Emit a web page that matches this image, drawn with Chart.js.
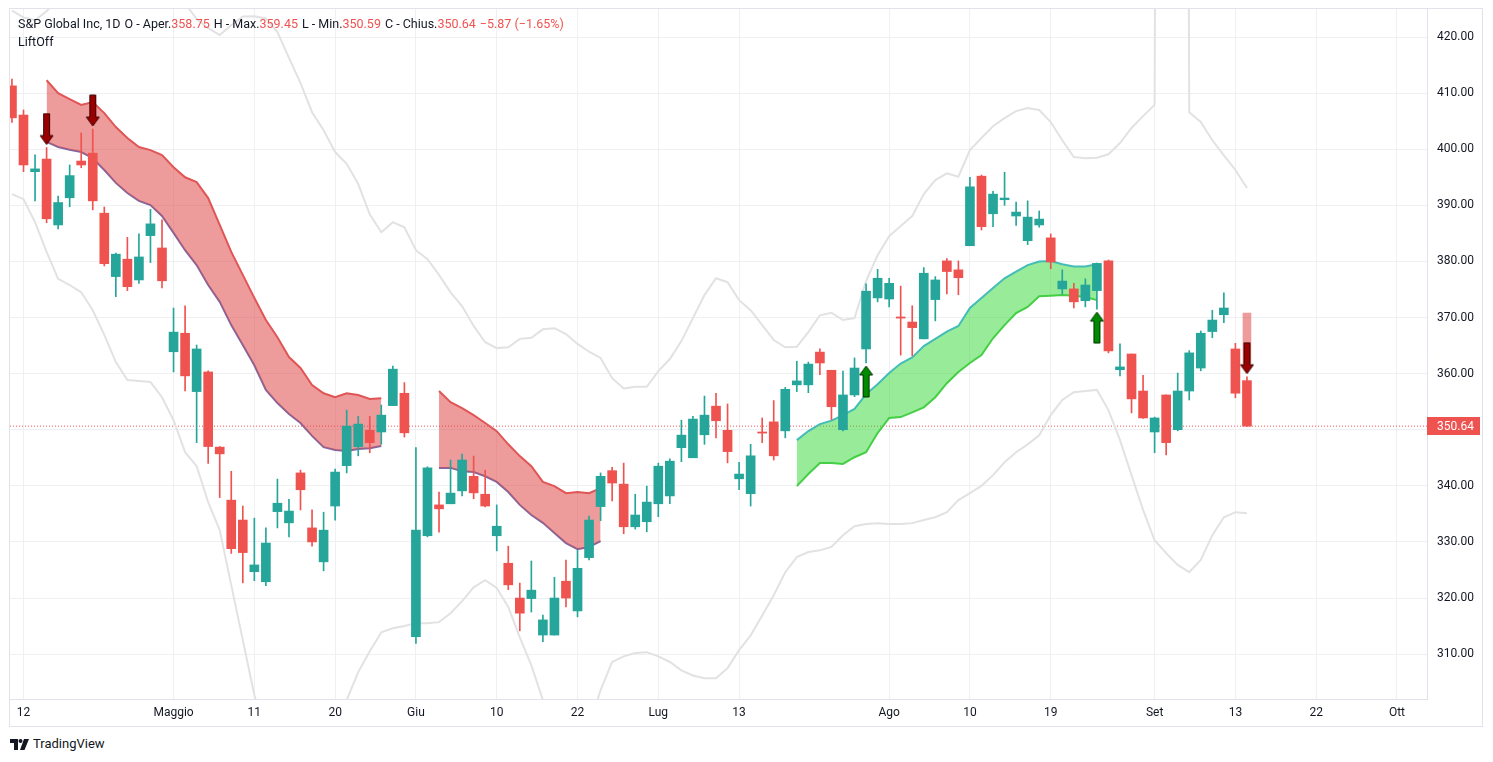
<!DOCTYPE html>
<html>
<head>
<meta charset="utf-8">
<script src="https://cdn.jsdelivr.net/npm/chart.js"></script>
<style>
  body { margin: 0; background: #fff; width: 1493px; height: 762px; overflow: hidden;
         font-family: Roboto, "Liberation Sans", sans-serif; color: #131722; }
  #frame { position: absolute; left: 9px; top: 8px; width: 1472px; height: 717px; border: 1px solid #e0e3eb; }
  #frame canvas { position: absolute; left: 0; top: 0; }
  #legend { position: absolute; left: 18px; top: 15px; font-size: 12.5px; line-height: 18px; pointer-events: none; }
  #legend .sep { margin-left: 4px; }
  #legend .v { color: #ef5350; }
  #brand { position: absolute; left: 10px; top: 736px; font-size: 13px; line-height: 16px; }
  #brand svg { vertical-align: -2px; margin-right: 3px; }
</style>
</head>
<body>
<div id="frame"><canvas id="chart" width="1472" height="717"></canvas></div>
<div id="legend"><div id="ohlc"></div><div>LiftOff</div></div>
<div id="brand"><svg width="20" height="11" viewBox="0 0 20 11"><path d="M0 0h8v11H4V4H0z" fill="#131722"/><circle cx="10.5" cy="2" r="2" fill="#131722"/><path d="M14 0h5l-4.5 11H10z" fill="#131722"/></svg>TradingView</div>
<script>
// Daily candles, index 0 = 11 Apr 2022 (trading days only)
const open = [
  411.3, 406.1, 396.0, 398.25, 386.5, 391.35, 397.9, 399.3, 388.6, 377.3,
  380.4, 376.7, 384.6, 382.4, 363.9, 367.2, 356.8, 360.3, 346.9, 337.45,
  333.9, 324.7, 322.9, 335.4, 333.4, 342.3, 332.5, 326.45, 336.4, 343.6,
  346.96, 349.9, 349.6, 354.3, 356.5, 313.1, 331.1, 336.6, 336.8, 339.1,
  341.7, 338.5, 331.1, 326.2, 320.0, 319.9, 313.4, 313.4, 323.0, 317.7,
  327.2, 336.3, 342.7, 340.3, 332.7, 333.6, 336.8, 338.2, 346.8, 345.0,
  349.1, 354.2, 349.9, 341.25, 338.6, 349.6, 351.4, 349.8, 358.0, 358.0,
  363.84, 360.6, 350.0, 356.2, 364.4, 373.5, 373.3, 370.1, 369.2, 366.2,
  373.2, 380.1, 378.5, 382.8, 395.2, 388.5, 391.0, 388.1, 383.7, 386.5,
  384.2, 375.1, 375.1, 373.0, 374.8, 380.1, 360.7, 363.5, 356.9, 349.6,
  356.2, 350.0, 356.9, 361.0, 367.5, 370.5, 364.4, 358.75
];
const high = [
  412.5, 407.0, 399.0, 400.3, 391.65, 397.2, 402.9, 403.6, 389.7, 381.5,
  384.3, 384.9, 389.3, 387.4, 371.7, 372.1, 365.1, 360.5, 347.0, 342.6,
  336.4, 334.25, 332.5, 341.2, 337.6, 342.8, 335.7, 335.3, 343.0, 353.5,
  352.4, 352.4, 354.4, 361.35, 358.4, 346.8, 343.4, 338.9, 344.6, 345.65,
  345.3, 342.8, 336.6, 329.25, 322.66, 326.6, 316.95, 323.7, 326.76, 328.5,
  334.6, 342.3, 343.3, 344.05, 338.5, 339.95, 344.05, 344.8, 351.7, 352.4,
  356.0, 356.5, 354.6, 344.2, 347.4, 352.1, 355.2, 357.55, 362.2, 362.06,
  364.4, 360.6, 360.45, 362.8, 376.0, 378.6, 377.0, 375.6, 372.1, 378.9,
  377.3, 380.5, 380.1, 395.0, 395.4, 392.5, 395.9, 390.6, 390.8, 389.0,
  384.9, 378.5, 376.1, 376.9, 379.7, 380.25, 365.3, 363.5, 359.7, 352.25,
  356.2, 360.1, 364.1, 367.6, 371.3, 374.4, 365.4, 359.45
];
const low = [
  404.8, 396.0, 390.8, 386.9, 385.8, 389.75, 396.7, 389.2, 379.2, 373.7,
  374.8, 376.1, 379.8, 375.3, 360.3, 356.9, 347.7, 344.0, 337.9, 327.95,
  322.7, 323.1, 322.2, 332.5, 330.9, 335.7, 329.25, 324.85, 333.9, 342.3,
  345.35, 345.9, 347.4, 354.3, 348.7, 311.9, 330.9, 331.75, 336.8, 338.2,
  337.7, 336.25, 328.4, 321.5, 314.15, 317.5, 312.2, 313.4, 318.4, 316.65,
  326.8, 333.8, 337.3, 331.45, 332.3, 331.8, 334.5, 336.8, 344.3, 345.0,
  347.4, 348.56, 344.1, 339.3, 336.4, 347.7, 344.6, 348.56, 356.8, 356.6,
  359.8, 351.8, 349.8, 355.9, 361.9, 372.8, 371.9, 363.3, 363.2, 366.2,
  369.4, 374.2, 374.05, 382.8, 385.6, 386.2, 390.0, 386.4, 383.0, 386.1,
  378.7, 374.2, 371.7, 371.9, 371.5, 363.7, 359.6, 353.0, 352.0, 345.9,
  345.5, 349.8, 355.3, 360.5, 366.4, 369.1, 355.7, 350.59
];
const close = [
  405.6, 397.2, 396.5, 387.6, 390.5, 395.3, 397.2, 390.8, 379.6, 381.3,
  375.5, 380.8, 386.7, 376.55, 367.4, 359.6, 364.4, 347.0, 345.7, 328.8,
  328.1, 325.9, 329.8, 336.9, 335.5, 339.3, 330.0, 332.1, 342.45, 350.65,
  351.0, 347.7, 352.6, 360.8, 349.45, 332.1, 343.2, 335.9, 338.7, 344.6,
  338.75, 336.4, 332.8, 322.35, 317.3, 321.4, 316.1, 320.0, 320.0, 325.3,
  333.9, 341.7, 340.5, 332.7, 334.8, 337.1, 343.5, 344.4, 349.04, 351.9,
  352.6, 351.6, 346.1, 342.1, 345.35, 349.4, 345.35, 357.2, 358.7, 361.7,
  361.9, 354.1, 356.2, 361.0, 374.7, 377.0, 376.1, 369.9, 368.2, 377.9,
  376.7, 378.2, 377.1, 393.3, 386.2, 392.0, 391.3, 388.8, 387.9, 387.55,
  379.9, 376.5, 372.8, 375.8, 379.65, 364.07, 361.2, 355.5, 352.1, 352.1,
  347.7, 356.9, 363.7, 367.2, 369.55, 371.7, 356.51, 350.64
];

// Grey envelope lines
const envTop = [
  424.7, 423.5, 423.0, 424.6, 427.0, 429.0, 430.0, 431.0, 431.0, 431.0,
  430.0, 430.0, 429.0, 428.5, 427.5, 426.0, 423.2, 421.6, 420.35, 422.1,
  423.65, 423.7, 423.3, 420.9, 416.3, 411.8, 406.6, 403.4, 399.5, 397.4,
  393.8, 388.4, 385.2, 387.0, 386.1, 382.0, 380.4, 377.6, 374.5, 372.0,
  368.5, 365.6, 364.55, 364.7, 366.2, 366.4, 367.9, 368.1, 367.05, 365.3,
  363.9, 362.8, 359.2, 357.35, 357.65, 357.65, 360.45, 362.6, 365.8, 369.9,
  374.0, 377.0, 376.3, 373.1, 371.3, 368.65, 366.0, 364.7, 364.8, 367.4,
  370.4, 370.85, 369.55, 369.9, 376.5, 381.1, 384.5, 386.3, 388.1, 392.0,
  394.5, 395.7, 395.1, 399.85, 402.0, 404.1, 405.55, 406.8, 407.35, 407.0,
  404.85, 401.6, 398.6, 398.4, 398.5, 399.1, 401.1, 403.8, 405.9, 407.9,
  1000, 1000, 406.6, 404.85, 401.6, 398.9, 396.3, 393.1
];
const envBot = [
  392.0, 391.1, 387.0, 381.7, 376.9, 375.8, 374.5, 371.3, 366.9, 362.05,
  358.85, 358.7, 358.5, 355.8, 351.7, 346.0, 343.5, 337.1, 332.1, 322.3,
  312.5, 302.7, 296.0, 292.0, 290.0, 289.0, 290.0, 293.0, 297.0, 301.8,
  306.8, 310.5, 313.9, 314.6, 315.0, 315.5, 315.5, 315.7, 317.3, 319.45,
  321.9, 323.2, 321.8, 318.4, 313.0, 308.0, 301.8, 296.0, 292.0, 293.0,
  297.0, 303.6, 308.6, 309.6, 310.2, 310.35, 309.6, 308.6, 307.1, 306.2,
  305.7, 305.7, 307.5, 310.7, 313.35, 316.9, 320.5, 324.6, 327.3, 328.2,
  328.5, 329.1, 331.2, 332.8, 333.2, 333.35, 333.2, 333.2, 333.35, 333.9,
  334.4, 335.3, 337.45, 338.7, 340.0, 341.9, 344.2, 346.0, 347.4, 349.0,
  352.6, 355.3, 356.7, 356.9, 357.1, 353.5, 348.15, 341.9, 335.7, 330.3,
  328.0, 325.9, 324.6, 326.8, 331.2, 334.4, 335.3, 335.1
];

// LiftOff bands: each segment starts at a bar index
const red1Start = 3;
const red1Top = [
  412.3, 410.0, 408.95, 407.9, 408.4, 406.45, 403.96, 402.0, 400.4, 399.85,
  398.96, 396.8, 395.0, 394.15, 391.3, 386.5, 381.7, 377.6, 373.5, 369.55,
  366.5, 362.95, 361.0, 357.96, 356.5, 355.8, 356.5, 356.2, 355.5, 355.6
];
const red1Bot = [
  401.3, 400.4, 399.9, 399.5, 398.4, 396.3, 394.0, 392.2, 390.8, 390.05,
  388.1, 385.1, 382.0, 379.35, 375.8, 372.8, 368.65, 365.1, 361.5, 357.1,
  354.75, 352.8, 351.2, 348.9, 346.9, 346.4, 346.2, 346.55, 346.7, 347.1
];
const red2Start = 37;
const red2Top = [356.9, 354.9, 353.85, 352.6, 351.2, 349.75, 347.4, 345.3, 343.5, 340.7, 339.95, 338.7, 338.9, 338.7, 339.6];
const red2Bot = [343.2, 343.2, 342.6, 342.45, 341.7, 340.7, 338.9, 336.6, 334.8, 333.4, 331.6, 329.8, 328.7, 329.1, 330.15];
const red3Start = 107;
const red3Top = [370.8];
const red3Bot = [361.9];
const greenStart = 68;
const greenTop = [
  348.15, 349.76, 351.0, 351.63, 352.6, 353.7, 356.35, 358.1, 360.1, 361.8,
  362.9, 364.9, 366.2, 367.5, 368.5, 371.7, 373.5, 375.25, 377.0, 378.2,
  379.35, 380.0, 380.06, 379.5, 379.1, 379.1, 379.5
];
const greenBot = [
  339.95, 342.1, 344.05, 344.05, 343.9, 345.1, 346.0, 349.4, 352.1, 352.25,
  353.1, 354.0, 355.8, 358.3, 360.3, 361.9, 363.3, 366.3, 368.65, 370.8,
  371.9, 373.8, 373.9, 374.0, 373.9, 373.65, 373.1
];

// Signals
const sellIdx = [3, 7, 107];
const buyIdx = [74, 94];

// Axis ticks
const tickIdx = [1, 14, 21, 28, 35, 42, 49, 56, 63, 76, 83, 90, 99, 106, 113, 120];
const tickLabels = ['12', 'Maggio', '11', '20', 'Giu', '10', '22', 'Lug', '13', 'Ago', '10', '19', 'Set', '13', '22', 'Ott'];
const priceTicks = [310, 320, 330, 340, 350, 360, 370, 380, 390, 400, 410, 420];

const UP = '#26a69a';
const DOWN = '#ef5350';
const last = close.length - 1;

// legend text
const chg = close[last] - close[last - 1];
const pct = chg / close[last - 1] * 100;
const fmt = v => v.toFixed(2);
const neg = s => s.replace('-', '\u2212');
document.getElementById('ohlc').innerHTML =
  '<span>S&amp;P Global Inc, 1D</span>' +
  '<span class="sep">O - Aper.<span class="v">' + fmt(open[last]) + '</span></span>' +
  '<span class="sep">H - Max.<span class="v">' + fmt(high[last]) + '</span></span>' +
  '<span class="sep">L - Min.<span class="v">' + fmt(low[last]) + '</span></span>' +
  '<span class="sep">C - Chius.<span class="v">' + fmt(close[last]) + '</span></span>' +
  '<span class="sep v">' + neg(fmt(chg)) + ' (' + neg(fmt(pct)) + '%)</span>';

function arrowImage(up, fill, edge) {
  const c = document.createElement('canvas');
  c.width = 15; c.height = 70;
  const g = c.getContext('2d');
  if (up) { g.translate(0, 70); g.scale(1, -1); }
  g.beginPath();
  g.moveTo(4.5, 1); g.lineTo(10.5, 1); g.lineTo(10.5, 23); g.lineTo(14, 23);
  g.lineTo(7.5, 32); g.lineTo(1, 23); g.lineTo(4.5, 23); g.closePath();
  g.fillStyle = fill; g.fill();
  g.strokeStyle = edge; g.lineWidth = 1; g.stroke();
  return c;
}

const pts = (start, arr) => arr.map((v, i) => ({ x: start + i, y: v }));
const xMin = -0.17, xMax = 122.6;

const datasets = [];

// bodies and wicks
datasets.push({
  type: 'bar', label: 'body', order: 2, grouped: false, barThickness: 9, minBarLength: 1,
  data: open.map((o, i) => ({ x: i, y: [o, close[i]] })),
  backgroundColor: open.map((o, i) => close[i] >= o ? UP : DOWN)
});
datasets.push({
  type: 'bar', label: 'wick', order: 3, grouped: false, barThickness: 1,
  data: low.map((l, i) => ({ x: i, y: [l, high[i]] })),
  backgroundColor: open.map((o, i) => close[i] >= o ? UP : DOWN)
});

// signal arrows
datasets.push({
  type: 'scatter', label: 'sell', order: 1, pointRadius: 5,
  pointStyle: arrowImage(false, '#990000', '#3d0000'),
  data: sellIdx.map(i => ({ x: i, y: high[i] }))
});
datasets.push({
  type: 'scatter', label: 'buy', order: 1, pointRadius: 5,
  pointStyle: arrowImage(true, '#008a00', '#003300'),
  data: buyIdx.map(i => ({ x: i, y: low[i] }))
});

// bands
function band(start, top, bot, topColor, botColor, fillColor) {
  if (top.length === 1) {
    datasets.push({
      type: 'bar', order: 10, grouped: false, barThickness: 8,
      data: [{ x: start, y: [bot[0], top[0]] }], backgroundColor: fillColor
    });
    return;
  }
  datasets.push({
    type: 'line', order: 10, data: pts(start, top), borderColor: topColor, borderWidth: 2,
    pointRadius: 0, fill: '+1', backgroundColor: fillColor
  });
  datasets.push({
    type: 'line', order: 10, data: pts(start, bot), borderColor: botColor, borderWidth: 2,
    pointRadius: 0, fill: false
  });
}
band(red1Start, red1Top, red1Bot, '#e05555', '#7a6aa8', 'rgba(224, 72, 72, 0.55)');
band(red2Start, red2Top, red2Bot, '#e05555', '#7a6aa8', 'rgba(224, 72, 72, 0.55)');
band(red3Start, red3Top, red3Bot, '#e05555', '#7a6aa8', 'rgba(224, 72, 72, 0.55)');
band(greenStart, greenTop, greenBot, '#44bcb8', '#4ccc4c', 'rgba(50, 215, 50, 0.5)');

// envelope
datasets.push({
  type: 'line', order: 15, data: pts(0, envTop), borderColor: '#e2e2e2', borderWidth: 2, pointRadius: 0, fill: false
});
datasets.push({
  type: 'line', order: 15, data: pts(0, envBot), borderColor: '#e2e2e2', borderWidth: 2, pointRadius: 0, fill: false
});

// last price dotted line
datasets.push({
  type: 'line', order: 20, data: [{ x: xMin, y: close[last] }, { x: xMax, y: close[last] }],
  borderColor: DOWN, borderWidth: 1, borderDash: [1, 2], pointRadius: 0, fill: false
});

const lastPriceLabel = {
  id: 'lastPriceLabel',
  afterDraw(chart) {
    const { ctx, chartArea } = chart;
    const y = chart.scales.y.getPixelForValue(close[last]);
    ctx.save();
    ctx.fillStyle = DOWN;
    ctx.fillRect(chartArea.right, Math.round(y) - 9, 53, 18);
    ctx.fillStyle = '#ffffff';
    ctx.font = '12px Roboto, "Liberation Sans", sans-serif';
    ctx.textBaseline = 'middle';
    ctx.fillText(fmt(close[last]), chartArea.right + 10, y + 0.5);
    ctx.restore();
  }
};

new Chart(document.getElementById('chart'), {
  type: 'line',
  data: { datasets },
  plugins: [lastPriceLabel],
  options: {
    responsive: false,
    animation: false,
    events: [],
    layout: { padding: 0, autoPadding: false },
    plugins: { legend: { display: false }, tooltip: { enabled: false } },
    scales: {
      x: {
        type: 'linear', min: xMin, max: xMax, offset: false,
        afterBuildTicks: s => { s.ticks = tickIdx.map(v => ({ value: v })); },
        afterFit: s => { s.height = 27; s.paddingLeft = 0; s.paddingRight = 0; },
        grid: { color: '#eff0f3', drawTicks: false, offset: false },
        border: { display: true, color: '#e0e3eb' },
        ticks: {
          autoSkip: false, maxRotation: 0, padding: 7, color: '#131722',
          font: { family: 'Roboto, "Liberation Sans", sans-serif', size: 12 },
          callback: v => tickLabels[tickIdx.indexOf(v)]
        }
      },
      y: {
        position: 'right', min: 302, max: 425,
        afterBuildTicks: s => { s.ticks = priceTicks.map(v => ({ value: v })); },
        afterFit: s => { s.width = 55; s.paddingTop = 0; s.paddingBottom = 0; },
        grid: { color: '#eff0f3', drawTicks: false },
        border: { display: true, color: '#e0e3eb' },
        ticks: {
          padding: 10, color: '#131722',
          font: { family: 'Roboto, "Liberation Sans", sans-serif', size: 12 },
          callback: v => v.toFixed(2)
        }
      }
    }
  }
});
</script>
</body>
</html>
